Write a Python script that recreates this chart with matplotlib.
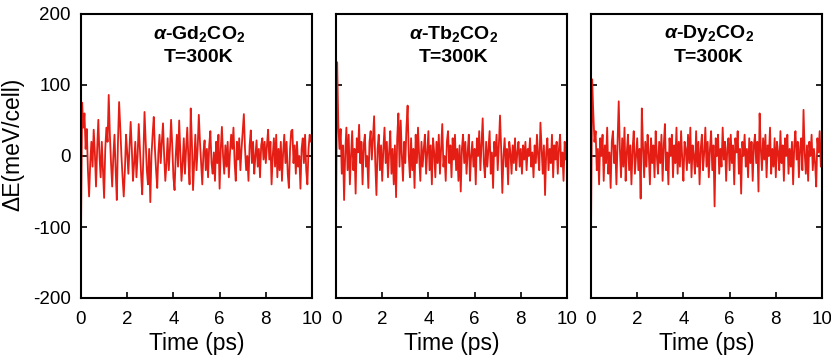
#!/usr/bin/env python3
# AIMD energy fluctuation of alpha-RE2CO2 at 300 K, three panels side by side

from matplotlib import pyplot as plt
import numpy as np

timeStep = 0.05  # ps between sampled points
timeEnd = 10.0

# energy fluctuation (meV/cell), one row = 1 ps
gdEnergy = [
    -110, 75, 40, 60, 10, 38, -20, -57, -10, 20, -15, 37, 5, -43, 10, 51, 0, -30, 20, -20,
    -59, 10, 40, 20, 86, 30, -10, -43, 0, 30, -20, -62, 20, 76, 40, 0, -30, -57, -20, 30,
    5, -25, 10, 48, 10, -35, -10, 20, -30, 0, 45, 10, -25, -54, 0, 62, 20, -20, -40, 10,
    -65, 0, 30, 55, 10, -20, -45, 5, 30, -10, 20, 46, 0, -35, -10, 25, -20, 10, 51, 15,
    -30, -48, 0, 30, -15, 50, 5, -35, -10, 25, -25, 10, 40, -5, -40, 67, 20, -48, -10, 30,
    -20, 10, 58, 20, -10, -40, 5, 22, -20, 10, -30, 15, 35, -10, -25, 5, -35, 20, -10, 30,
    -46, 10, 41, 0, -25, 15, -15, 20, -30, 5, 30, 10, 40, -10, -35, 20, -5, 25, -20, 10,
    35, 59, 10, -20, 0, -35, 15, 36, -10, 20, -25, 0, 22, -15, 10, -30, 15, 25, -5, 20,
    -10, 15, 37, -5, 20, -40, 0, 25, -15, 30, -30, 10, -20, 20, -35, 5, 30, -10, 20, -25,
    -45, 10, 35, 37, -10, 15, -25, 20, -15, 0, -46, 10, 25, -10, 30, -20, -40, 10, 30, 20,
    32,
]
tbEnergy = [
    -100, 132, 45, 10, 38, -25, 15, -62, 5, 40, -20, 30, -40, 0, 35, -20, 10, -53, 25, 5,
    44, -10, 20, -40, 15, 30, -15, 0, -45, 20, 35, -5, 25, 56, -10, -55, 10, 30, -20, 15,
    -35, 10, 40, -10, 20, -30, 5, 35, -25, 10, -40, 15, -58, 25, 60, -15, 50, 0, -35, 20,
    -10, 40, 71, 0, -30, 25, -20, 10, -45, 30, -10, 40, 0, -35, 20, -15, 10, 30, -25, 5,
    35, -20, 15, -40, 25, 5, -30, 20, -10, 30, -25, 10, 45, -15, 0, -35, 20, 35, -10, 15,
    -30, 25, -5, 30, -20, 10, -35, 15, -50, 10, 30, -10, 20, -25, 5, 30, -35, 0, 20, -15,
    10, -40, 25, 0, 35, -20, 15, 53, -10, -30, 20, -15, 10, 35, -25, 5, -45, 20, 0, 30,
    -20, 15, 57, 10, -52, 0, 25, -15, 10, -40, 20, 5, -25, 15, -10, 25, -20, 5, 20, -15,
    10, -25, 15, -5, 20, -20, 10, 0, 25, -15, 5, -30, 15, -10, 30, 0, -20, 47, 10, -25,
    15, -55, 5, 25, -20, 10, -10, 30, -30, 15, -5, 20, -25, 10, 30, -15, 5, -35, 20, -5,
    25,
]
dyEnergy = [
    -110, 108, 60, 20, 35, -20, 10, -40, 25, 0, 30, -35, 15, -10, 40, -25, 5, -45, 20, 35,
    -10, 15, -40, 20, 77, 10, -30, 25, -15, 40, -35, 5, 30, -20, 15, -40, 10, 35, -25, 0,
    25, -20, 10, -60, 67, 15, -30, 20, -15, 30, 5, -40, 25, -10, 15, -30, 35, 0, -25, 20,
    -10, 30, -35, 15, 45, -20, 5, -40, 25, 0, 30, -30, 15, -10, 40, -25, 20, -15, 35, -5,
    -35, 20, 10, -20, 30, -10, 40, -30, 15, 0, -25, 35, -15, 20, -40, 10, 30, -20, 5, 40,
    -15, 20, -30, 10, 35, -20, 15, -71, 25, 0, 30, -25, 10, -15, 40, -5, 20, -35, 10, 25,
    -20, 30, -10, 15, -40, 25, 5, 35, -25, 10, -53, 20, 0, 30, -15, 10, -30, 25, -10, 20,
    -35, 15, 30, -10, 20, -50, 60, 10, -20, 25, -5, 30, -30, 15, 0, 40, -25, 10, -15, 25,
    -30, 20, 5, -20, 35, -10, 15, -35, 25, 0, 30, -25, 10, -15, 20, -40, 15, 35, -5, 20,
    -30, 10, 25, -20, 65, 5, -25, 15, -35, 20, 0, 30, -20, 10, -10, -43, 25, 5, 35, -15,
    20,
]

panelTitles = [
    r"$\mathit{\alpha}$-Gd$_\mathrm{2}$CO$_\mathrm{2}$",
    r"$\mathit{\alpha}$-Tb$_\mathrm{2}$CO$_\mathrm{2}$",
    r"$\mathit{\alpha}$-Dy$_\mathrm{2}$CO$_\mathrm{2}$",
]
tempLabel = "T=300K"
xTicks = [0, 2, 4, 6, 8, 10]
yTicks = [-200, -100, 0, 100, 200]

plt.rcParams["font.family"] = ["Liberation Sans", "DejaVu Sans"]
plt.rcParams["axes.unicode_minus"] = False
plt.rcParams["mathtext.fontset"] = "custom"
plt.rcParams["mathtext.rm"] = "Liberation Sans:bold"
plt.rcParams["mathtext.it"] = "Liberation Sans:italic:bold"
plt.rcParams["mathtext.bf"] = "Liberation Sans:bold"

lineColor = "#e41e14"
figW, figH = 831, 358
px = 1 / 100

fig = plt.figure(figsize=(figW * px, figH * px), dpi=100)
axLefts = [81, 336, 591]
axWidth = 231
axBottom = 60
axHeight = 284

timeAxis = np.arange(len(gdEnergy)) * timeStep
allSeries = [gdEnergy, tbEnergy, dyEnergy]

for i, series in enumerate(allSeries):
    ax = fig.add_axes([axLefts[i] / figW, axBottom / figH, axWidth / figW, axHeight / figH])
    ax.plot(timeAxis, series, color=lineColor, linewidth=1.3)
    ax.set_xlim(0, timeEnd)
    ax.set_ylim(-200, 200)
    ax.set_xticks(xTicks)
    ax.set_yticks(yTicks)
    ax.tick_params(direction="in", length=4, width=1.2, labelsize=13.5, pad=7.5,
                   left=True, right=True, top=False, bottom=True)
    ax.tick_params(axis="x", pad=9.5)
    if i == 0:
        ax.set_ylabel("\u0394E(meV/cell)", fontsize=16.5)
        ax.yaxis.set_label_coords(-0.245, 0.54)
    else:
        ax.tick_params(labelleft=False)
    ax.set_xlabel("Time (ps)", fontsize=16.5, labelpad=3)
    for spine in ax.spines.values():
        spine.set_linewidth(1.5)
    ax.text(0.51, 0.93, panelTitles[i], transform=ax.transAxes, ha="center", va="center",
            fontsize=14, fontweight="bold")
    ax.text(0.51, 0.847, tempLabel, transform=ax.transAxes, ha="center", va="center",
            fontsize=14, fontweight="bold")

fig.savefig("out.png", dpi=100)
